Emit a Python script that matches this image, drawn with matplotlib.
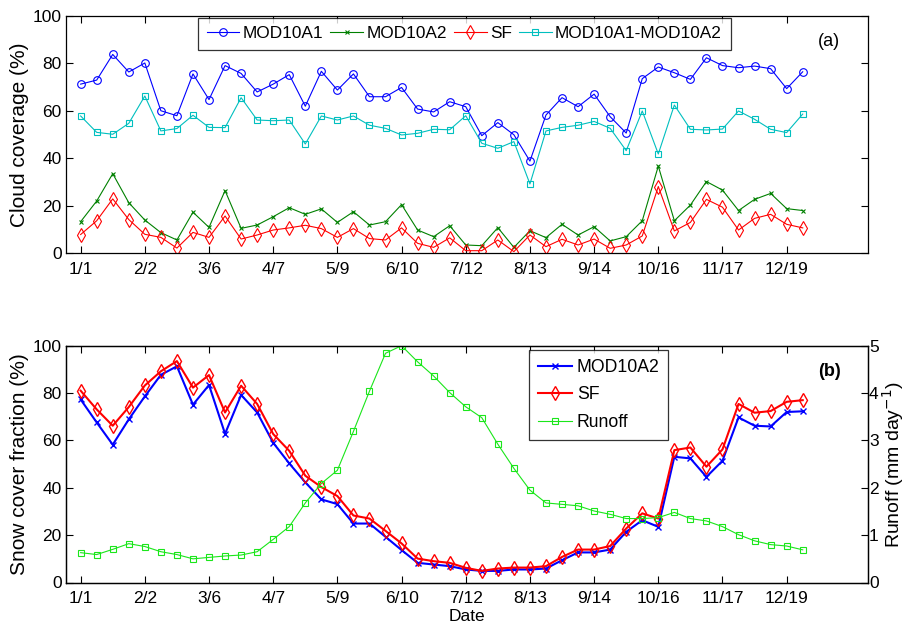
import numpy as np
import matplotlib
matplotlib.use("Agg")
import matplotlib.pyplot as plt

plt.rcParams['font.family'] = ['Liberation Sans', 'DejaVu Sans']

# ---------------- data ----------------
days = list(range(1, 366, 8))  # 8-day composites, day of year
tick_days = [1, 33, 65, 97, 129, 161, 193, 225, 257, 289, 321, 353]
tick_labels = ['1/1', '2/2', '3/6', '4/7', '5/9', '6/10', '7/12', '8/13',
               '9/14', '10/16', '11/17', '12/19']

# panel (a): cloud coverage (%)
mod10a1_cloud = [71.2, 72.9, 83.7, 76.3, 80.1, 60.0, 57.9, 75.5, 64.7, 79.0,
                 75.7, 67.9, 71.2, 75.2, 61.9, 76.6, 68.7, 75.5, 65.9, 65.9,
                 69.8, 60.7, 59.5, 63.8, 61.7, 49.5, 55.0, 49.9, 38.8, 58.2,
                 65.5, 61.7, 67.0, 57.5, 50.6, 73.5, 78.4, 76.0, 73.2, 82.3,
                 79.0, 78.1, 78.8, 77.7, 69.3, 76.4]
mod10a2_cloud = [13.3, 22.0, 33.5, 21.3, 14.0, 8.7, 5.6, 17.3, 10.9, 26.4,
                 10.5, 11.9, 15.4, 19.2, 16.4, 18.7, 13.0, 17.5, 11.9, 13.3,
                 20.5, 9.8, 7.0, 11.6, 3.5, 3.2, 10.8, 2.5, 9.5, 6.6,
                 12.2, 7.7, 11.2, 5.2, 7.0, 13.7, 36.7, 13.7, 20.3, 30.2,
                 26.6, 18.0, 22.7, 25.2, 18.8, 18.0]
sf_cloud = [7.9, 13.7, 22.9, 14.2, 8.0, 6.7, 2.2, 8.8, 6.7, 15.7,
            6.0, 7.7, 9.8, 10.7, 11.8, 10.4, 6.7, 10.4, 6.2, 5.6,
            10.7, 4.2, 2.5, 6.5, 1.1, 1.1, 5.6, 0.7, 7.7, 2.8,
            5.9, 3.5, 6.0, 2.1, 3.5, 7.3, 28.1, 9.4, 13.0, 22.7,
            19.4, 9.8, 14.7, 16.4, 12.2, 10.7]
diff_cloud = [57.8, 50.9, 50.1, 54.7, 66.2, 51.5, 52.5, 58.1, 53.0, 52.9,
              65.5, 56.1, 55.8, 56.1, 46.0, 57.8, 56.1, 57.8, 53.9, 52.6,
              49.8, 50.5, 52.2, 52.0, 57.9, 46.3, 44.2, 47.0, 29.2, 51.5,
              53.0, 53.9, 55.5, 52.6, 43.2, 59.9, 41.8, 62.4, 52.2, 51.9,
              52.3, 59.9, 56.4, 52.2, 50.8, 58.6]

# panel (b): snow cover fraction (%) and runoff (mm/day)
mod10a2_snow = [77.3, 67.6, 58.2, 68.9, 78.6, 87.7, 91.3, 75.1, 83.4, 62.8,
                79.2, 71.8, 59.0, 50.3, 42.3, 35.1, 33.1, 24.9, 24.9, 19.3,
                13.7, 8.3, 7.6, 6.9, 5.5, 4.9, 4.9, 5.5, 5.5, 5.9,
                9.4, 12.7, 12.7, 13.9, 21.4, 26.3, 23.5, 53.1, 52.4, 44.6,
                51.4, 69.7, 66.2, 65.9, 72.0, 72.3]
sf_snow = [81.0, 73.1, 66.2, 74.1, 83.2, 89.2, 93.5, 82.3, 87.6, 71.8,
           83.1, 75.4, 62.7, 55.6, 45.1, 40.3, 36.5, 28.3, 27.0, 21.8,
           16.5, 10.1, 9.0, 8.3, 6.2, 4.9, 5.9, 6.3, 6.3, 6.9,
           10.8, 13.9, 13.9, 15.4, 22.8, 29.2, 27.0, 55.9, 57.0, 48.9,
           56.2, 75.4, 71.7, 72.4, 76.3, 77.0]
runoff = [0.63, 0.59, 0.70, 0.82, 0.76, 0.65, 0.59, 0.50, 0.53, 0.56,
          0.58, 0.65, 0.91, 1.18, 1.68, 2.09, 2.37, 3.19, 4.04, 4.84,
          5.00, 4.66, 4.36, 4.01, 3.71, 3.48, 2.92, 2.41, 1.95, 1.68,
          1.65, 1.62, 1.51, 1.44, 1.35, 1.35, 1.37, 1.48, 1.35, 1.30,
          1.18, 1.01, 0.88, 0.80, 0.77, 0.69]

# ---------------- figure ----------------
W, H = 910, 631
fig = plt.figure(figsize=(W / 100, H / 100), dpi=100)

def ax_rect(l, t, r, b):
    return [l / W, 1 - b / H, (r - l) / W, (b - t) / H]

XLIM = (-6.3, 393.3)
TICKFS = 12.5
LABFS = 15

def style(ax, right=True):
    ax.set_xlim(*XLIM)
    ax.set_xticks(tick_days)
    ax.set_xticklabels(tick_labels)
    ax.tick_params(direction='in', length=5, width=0.8, labelsize=TICKFS,
                   top=True, right=right)
    ax.tick_params(axis='x', pad=6)
    ax.tick_params(axis='y', pad=3)
    for s in ax.spines.values():
        s.set_linewidth(0.9)

cyan = (0.0, 0.75, 0.75)
dgreen = (0.0, 0.5, 0.0)
lgreen = (0.1, 0.9, 0.1)

# ---- panel (a)
ax1 = fig.add_axes(ax_rect(66, 15.7, 867.5, 253.3))
ax1.plot(days, mod10a1_cloud, '-o', color='blue', lw=0.8, ms=5.5,
         mfc='none', mew=0.8, label='MOD10A1')
ax1.plot(days, mod10a2_cloud, '-x', color=dgreen, lw=0.8, ms=3,
         mew=0.8, label='MOD10A2')
ax1.plot(days, sf_cloud, '-d', color='red', lw=0.8, ms=7,
         mfc='none', mew=0.8, label='SF')
ax1.plot(days, diff_cloud, '-s', color=cyan, lw=0.8, ms=5,
         mfc='none', mew=0.8, label='MOD10A1-MOD10A2')
ax1.set_ylim(0, 100)
ax1.set_yticks([0, 20, 40, 60, 80, 100])
style(ax1)
ax1.set_ylabel('Cloud coverage (%)', fontsize=LABFS, labelpad=3)
leg1 = ax1.legend(loc='upper left', bbox_to_anchor=(0.1647, 0.992), ncol=4,
                  fontsize=12.4, frameon=True, fancybox=False, edgecolor='black',
                  borderaxespad=0, handlelength=1.9, columnspacing=0.4,
                  handletextpad=0.2, borderpad=0.5)
leg1.get_frame().set_linewidth(0.9)
ax1.text(0.952, 0.891, '(a)', transform=ax1.transAxes, fontsize=13,
         ha='center', va='center')

# ---- panel (b)
ax2 = fig.add_axes(ax_rect(66, 345.7, 867.5, 582.5))
l1, = ax2.plot(days, mod10a2_snow, '-x', color='blue', lw=1.5, ms=4,
               mew=1.0, label='MOD10A2')
l2, = ax2.plot(days, sf_snow, '-d', color='red', lw=1.5, ms=7,
               mfc='none', mew=1.0, label='SF')
ax2.set_ylim(0, 100)
ax2.set_yticks([0, 20, 40, 60, 80, 100])
style(ax2, right=False)
ax2.set_ylabel('Snow cover fraction (%)', fontsize=LABFS, labelpad=3)
ax2.set_xlabel('Date', fontsize=12.5, labelpad=2)

ax3 = ax2.twinx()
l3, = ax3.plot(days, runoff, '-s', color=lgreen, lw=0.8, ms=5,
               mfc='none', mew=0.8, label='Runoff')
ax3.set_ylim(0, 5)
ax3.set_yticks([0, 1, 2, 3, 4, 5])
ax3.tick_params(direction='in', length=5, width=0.8, labelsize=TICKFS, pad=1)
ax3.set_ylabel('Runoff (mm day$^{-1}$)', fontsize=14, labelpad=1)
for s in ax3.spines.values():
    s.set_linewidth(0.9)
leg2 = ax3.legend(handles=[l1, l2, l3], loc='upper left',
                  bbox_to_anchor=(0.578, 0.982), fontsize=12.7, frameon=True,
                  fancybox=False, edgecolor='black', borderaxespad=0,
                  handlelength=1.9, handletextpad=0.3, borderpad=0.5,
                  labelspacing=0.6)
leg2.get_frame().set_linewidth(0.9)
ax3.text(0.952, 0.893, '(b)', transform=ax3.transAxes, fontsize=13,
         fontweight='bold', ha='center', va='center')

fig.savefig('out.png', dpi=100)
